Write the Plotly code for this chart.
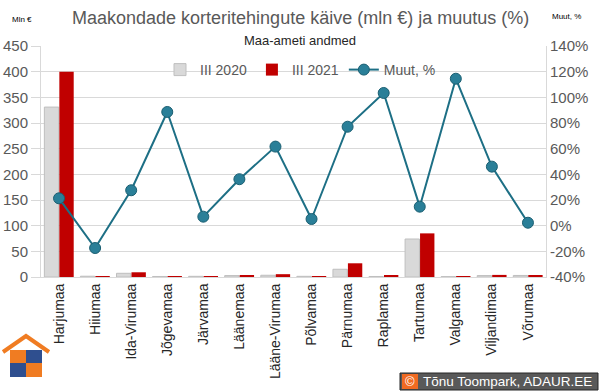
import plotly.graph_objects as go

categories = ["Harjumaa", "Hiiumaa", "Ida-Virumaa", "Jõgevamaa", "Järvamaa", "Läänemaa",
              "Lääne-Virumaa", "Põlvamaa", "Pärnumaa", "Raplamaa", "Tartumaa", "Valgamaa",
              "Viljandimaa", "Võrumaa"]
turnover_2020 = [331, 1.5, 7.2, 1.0, 1.3, 2.8, 3.4, 1.3, 15.1, 1.0, 74, 0.8, 2.8, 3.0]
turnover_2021 = [400, 1.2, 9.2, 1.9, 1.4, 3.8, 5.5, 1.4, 26.7, 2.0, 85, 1.7, 4.1, 3.1]
change_pct = [21.3, -17.4, 27.6, 88.6, 7.0, 36.2, 61.6, 5.2, 77.1, 103.4, 14.8, 114.5, 46.0, 2.3]

left_ticks = [0, 50, 100, 150, 200, 250, 300, 350, 400, 450]
right_ticks = [-40, -20, 0, 20, 40, 60, 80, 100, 120, 140]
right_labels = [f"{v}%" for v in right_ticks]

W, H = 600, 392
L, R, T, B = 41, 54, 46, 115
PW, PH = W - L - R, H - T - B

def px(x):
    return (x - L) / PW

def py(y):
    return (H - B - y) / PH

FONT = "Liberation Sans"
TXT = "#595959"

fig = go.Figure()
fig.add_trace(go.Bar(x=categories, y=turnover_2020, name="III 2020",
                     marker=dict(color="#d9d9d9", line=dict(color="#bfbfbf", width=1))))
fig.add_trace(go.Bar(x=categories, y=turnover_2021, name="III 2021",
                     marker=dict(color="#c00000", line=dict(color="#c00000", width=0))))
fig.add_trace(go.Scatter(x=categories, y=change_pct, name="Muut, %", yaxis="y2",
                         mode="lines+markers",
                         line=dict(color="#1d6f85", width=2),
                         marker=dict(size=11, color="#2a7f98", line=dict(color="#1b5f72", width=1))))

shapes = [
    dict(type="rect", xref="paper", yref="paper", x0=px(68), x1=px(533), y0=py(44), y1=py(49),
         fillcolor="white", line=dict(width=0), layer="above"),
    dict(type="path", xref="paper", yref="paper",
         path=f"M {px(3)},{py(352)} L {px(26)},{py(336)} L {px(49)},{py(352)}",
         line=dict(color="#f07c22", width=4)),
    dict(type="rect", xref="paper", yref="paper", x0=px(10), x1=px(26), y0=py(363), y1=py(350),
         fillcolor="#f07c22", line=dict(width=0)),
    dict(type="rect", xref="paper", yref="paper", x0=px(26), x1=px(42), y0=py(363), y1=py(350),
         fillcolor="#2f4f8f", line=dict(width=0)),
    dict(type="rect", xref="paper", yref="paper", x0=px(10), x1=px(26), y0=py(377), y1=py(363),
         fillcolor="#2f4f8f", line=dict(width=0)),
    dict(type="rect", xref="paper", yref="paper", x0=px(26), x1=px(42), y0=py(377), y1=py(363),
         fillcolor="#f07c22", line=dict(width=0)),
    dict(type="rect", xref="paper", yref="paper", x0=px(400), x1=px(598), y0=py(390), y1=py(373),
         fillcolor="#595959", line=dict(color="#262626", width=1)),
    dict(type="rect", xref="paper", yref="paper", x0=px(402), x1=px(418), y0=py(389), y1=py(374),
         fillcolor="#f06a22", line=dict(width=0)),
]

annotations = [
    dict(text="Maakondade korteritehingute käive (mln €) ja muutus (%)", x=px(300), y=py(18),
         xref="paper", yref="paper", showarrow=False, font=dict(family=FONT, size=18, color=TXT),
         xanchor="center", yanchor="middle"),
    dict(text="Maa-ameti andmed", x=px(300), y=py(40), xref="paper", yref="paper", showarrow=False,
         font=dict(family=FONT, size=13, color="#262626"), xanchor="center", yanchor="middle"),
    dict(text="Mln €", x=px(22), y=py(19), xref="paper", yref="paper", showarrow=False,
         font=dict(family=FONT, size=8, color="black"), xanchor="center", yanchor="middle"),
    dict(text="Muut, %", x=px(566), y=py(17), xref="paper", yref="paper", showarrow=False,
         font=dict(family=FONT, size=8, color="black"), xanchor="center", yanchor="middle"),
    dict(text="Tõnu Toompark, ADAUR.EE", x=px(421), y=py(381.5), xref="paper", yref="paper",
         showarrow=False, xanchor="left", yanchor="middle",
         font=dict(family=FONT, size=13.5, color="white")),
    dict(text="©", x=px(410), y=py(381.5), xref="paper", yref="paper", showarrow=False,
         xanchor="center", yanchor="middle",
         font=dict(family=FONT, size=13, color="white")),
]

fig.update_layout(
    width=W, height=H,
    margin=dict(l=L, r=R, t=T, b=B, autoexpand=False),
    paper_bgcolor="white", plot_bgcolor="white",
    font=dict(family=FONT, color=TXT),
    barmode="group", bargap=0.17, bargroupgap=0.04,
    showlegend=True,
    legend=dict(orientation="h", x=px(160), y=py(70), xanchor="left", yanchor="middle",
                font=dict(family=FONT, size=14, color=TXT), bgcolor="rgba(0,0,0,0)",
                itemwidth=30, tracegroupgap=0, traceorder="normal"),
    xaxis=dict(range=[-0.5, len(categories) - 0.5], tickangle=-90,
               tickfont=dict(family=FONT, size=14, color="#262626"),
               showline=True, linecolor="#d9d9d9", showgrid=False, ticks="", automargin=False),
    yaxis=dict(range=[0, 450], tickvals=left_ticks, tickfont=dict(family=FONT, size=15, color=TXT),
               showgrid=True, gridcolor="#d9d9d9", zeroline=False, showline=True,
               linecolor="#d9d9d9", ticks="outside", ticklen=9, tickcolor="#d9d9d9",
               automargin=False),
    yaxis2=dict(range=[-40, 140], tickvals=right_ticks, ticktext=right_labels, overlaying="y",
                side="right", showgrid=False, zeroline=False, showline=True, linecolor="#d9d9d9",
                tickfont=dict(family=FONT, size=15, color=TXT), ticks="", automargin=False),
    shapes=shapes, annotations=annotations,
)

fig.write_html("out.html", config={"displayModeBar": False},
               post_script="document.body.style.margin='0';document.body.style.padding='0';")
